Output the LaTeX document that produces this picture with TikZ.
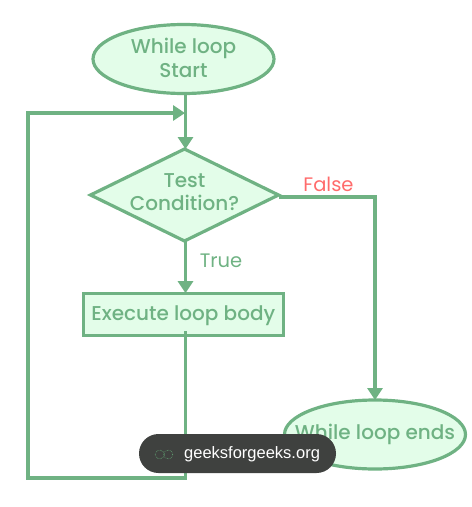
\documentclass[tikz,border=0pt]{standalone}
\usepackage{fontspec}
\setmainfont{Poppins}
\newfontfamily\medfont{Poppins Medium}
\newfontfamily\badgefont{Liberation Sans}
\usetikzlibrary{shapes.geometric,arrows.meta}
\definecolor{gline}{HTML}{6FB283}
\definecolor{gfill}{HTML}{E3FDE9}
\definecolor{gtext}{HTML}{6FB283}
\definecolor{fred}{HTML}{FF6B6B}
\definecolor{bdark}{HTML}{3F413F}
\definecolor{gicon}{HTML}{6FC987}
\tikzset{
  x=1pt,y=-1pt,
  shapebase/.style={draw=gline,fill=gfill,line width=3.2pt,outer sep=0pt,inner sep=0pt},
  shapetext/.style={text=gtext,align=center,inner sep=0pt,font=\medfont\fontsize{20}{23.5}\selectfont},
  term/.style={shapebase,ellipse,minimum width=181pt,minimum height=69pt},
  decide/.style={shapebase,diamond,minimum width=188pt,minimum height=92pt},
  proc/.style={shapebase,rectangle,minimum width=200pt,minimum height=42pt},
  flow/.style={draw=gline,line width=3.2pt,-{Triangle[length=12pt,width=15pt]}},
  plainlabel/.style={font=\fontsize{19.5}{21}\selectfont,inner sep=0pt},
  badge/.style={fill=bdark,rounded corners=19.5pt,minimum width=197pt,minimum height=39pt,inner sep=0pt,outer sep=0pt},
}
\begin{document}
\begin{tikzpicture}
\useasboundingbox (0,0) rectangle (472,507);
\node[term,label={[shapetext,yshift=1pt]center:While loop\\Start}] (start) at (183.5,59) {};
\node[decide,label={[shapetext,yshift=3pt]center:Test\\Condition?}] (test) at (184.5,195) {};
\node[proc,label={[shapetext,yshift=-1.5pt]center:Execute loop body}] (body) at (183.3,314.2) {};
\node[term,label={[shapetext]center:While loop ends}] (stop) at (375,434.5) {};
\coordinate (spine) at (185.5,0);
\coordinate (merge) at (185,113);
\coordinate (bl) at (185.5,478);
\coordinate (ll) at (28,478);
\coordinate (tl) at (28,113);
\coordinate (fr) at (375,197);
\draw[flow] (start.south -| spine) -- (test.north -| spine);
\draw[flow] (test.south -| spine) -- (body.north -| spine);
\draw[flow] ([yshift=-2pt]test.east) -- (fr) -- (stop.north);
\draw[flow] ([yshift=4pt]body.south -| spine) -- (bl) -- (ll) -- (tl) -- (merge);
\node[plainlabel,text=gtext] (truelabel) at (221,260.5) {True};
\node[plainlabel,text=fred] (falselabel) at (328.5,184) {False};
\node[badge] (wm) at (237.5,453.5) {};
\node[font=\badgefont\fontsize{16.5}{18}\selectfont,text=white,inner sep=0pt,anchor=west] (wmtext) at (184,454) {geeksforgeeks.org};
\draw[gicon,line width=.5pt,densely dotted] (159.7,454.5) circle (4.5pt) (168.3,454.5) circle (4.5pt);
\end{tikzpicture}
\end{document}
